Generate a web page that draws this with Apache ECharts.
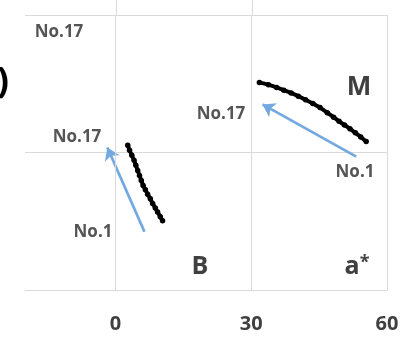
<!DOCTYPE html>
<html>
<head>
<meta charset="utf-8">
<script src="https://cdn.jsdelivr.net/npm/echarts@6/dist/echarts.min.js"></script>
<style>
  html, body { margin: 0; padding: 0; background: #fff; }
  #chart { width: 409px; height: 337px; }
</style>
</head>
<body>
<div id="chart"></div>
<script>
// a* (x) against the second colour coordinate (y), samples No.1 .. No.17
var xTicks = [0, 30, 60];
var seriesB = [
  [10.4, 15.1], [9.9, 16.0], [9.3, 17.0], [8.8, 17.9], [8.2, 18.9],
  [7.7, 19.9], [7.1, 20.9], [6.6, 21.9], [6.1, 22.8], [5.7, 23.9],
  [5.3, 25.0], [4.9, 26.1], [4.5, 27.2], [4.1, 28.3], [3.6, 29.4],
  [3.1, 30.5], [2.7, 31.6]
];
var seriesM = [
  [55.4, 32.4], [54.2, 33.4], [53.0, 34.3], [51.8, 35.2], [50.6, 36.0],
  [49.4, 36.8], [48.2, 37.7], [46.8, 38.7], [45.2, 39.8], [43.6, 40.7],
  [42.0, 41.5], [40.4, 42.3], [38.8, 43.0], [37.2, 43.6], [35.6, 44.2],
  [33.8, 44.8], [31.8, 45.3]
];
// direction arrows from No.1 to No.17
var arrowB = [[6.4, 12.7], [-1.8, 31.1]];
var arrowM = [[53.2, 29.1], [32.5, 40.5]];

var font = '"Open Sans", "Liberation Sans", sans-serif';
var gridColor = '#dadada';
var arrowColor = '#74a9e0';

var chart = echarts.init(document.getElementById('chart'), null, { renderer: 'canvas' });

function curve(name, data) {
  return {
    name: name,
    type: 'line',
    data: data,
    symbol: 'circle',
    symbolSize: 5.5,
    lineStyle: { color: '#000', width: 4 },
    itemStyle: { color: '#000' },
    z: 5,
    animation: false
  };
}

function arrow(coords) {
  return {
    type: 'lines',
    coordinateSystem: 'cartesian2d',
    data: [{ coords: coords }],
    symbol: ['none', 'arrow'],
    symbolSize: 12,
    lineStyle: { color: arrowColor, width: 2.8, opacity: 1 },
    z: 4,
    animation: false
  };
}

function label(text, x, y, size, color) {
  return {
    type: 'text',
    x: x, y: y,
    style: {
      text: text,
      font: 'bold ' + size + 'px ' + font,
      fill: color,
      align: 'center',
      verticalAlign: 'middle'
    },
    z: 10
  };
}

chart.setOption({
  animation: false,
  backgroundColor: '#fff',
  grid: { left: 25, right: 22, top: 15, bottom: 47 },
  xAxis: {
    type: 'value',
    min: -20, max: 60, interval: 10,
    axisLine: { show: true, lineStyle: { color: gridColor, width: 1 } },
    axisTick: { show: false },
    splitLine: { show: false },
    axisLabel: {
      margin: 24,
      fontSize: 20,
      fontWeight: 'bold',
      fontFamily: font,
      color: '#404040',
      formatter: function (v) { return xTicks.indexOf(v) >= 0 ? String(v) : ''; }
    }
  },
  yAxis: {
    type: 'value',
    min: 0, max: 60, interval: 30,
    axisLine: { show: false },
    axisTick: { show: false },
    axisLabel: { show: false },
    splitLine: { show: true, lineStyle: { color: gridColor, width: 1 } }
  },
  series: [
    Object.assign(curve('B', seriesB), {
      markLine: {
        silent: true,
        symbol: 'none',
        label: { show: false },
        lineStyle: { color: gridColor, width: 1, type: 'solid' },
        data: xTicks.map(function (t) { return { xAxis: t }; })
      }
    }),
    curve('M', seriesM),
    arrow(arrowB),
    arrow(arrowM)
  ],
  graphic: [
    { type: 'line', shape: { x1: 116.5, y1: 0, x2: 116.5, y2: 15 }, style: { stroke: gridColor, lineWidth: 1 } },
    { type: 'line', shape: { x1: 252.5, y1: 0, x2: 252.5, y2: 15 }, style: { stroke: gridColor, lineWidth: 1 } },
    {
      type: 'text', x: 9, y: 83,
      style: { text: ')', font: 'bold 36px ' + font, fill: '#000', align: 'right', verticalAlign: 'middle' }
    },
    label('No.17', 59, 32, 17, '#555'),
    label('No.17', 77, 137, 17, '#555'),
    label('No.1', 93, 232, 17, '#555'),
    label('No.17', 221, 114, 17, '#555'),
    label('No.1', 355, 172, 17, '#555'),
    label('M', 359, 88, 26, '#404040'),
    label('B', 200, 267, 25, '#404040'),
    {
      type: 'text', x: 357, y: 267,
      style: {
        text: '{a|a}{s|*}',
        align: 'center', verticalAlign: 'middle',
        rich: {
          a: { font: 'bold 25px ' + font, fill: '#404040' },
          s: { font: 'bold 18px ' + font, fill: '#404040', verticalAlign: 'top', padding: [0, 0, 8, 0] }
        }
      },
      z: 10
    }
  ]
});
</script>
</body>
</html>
